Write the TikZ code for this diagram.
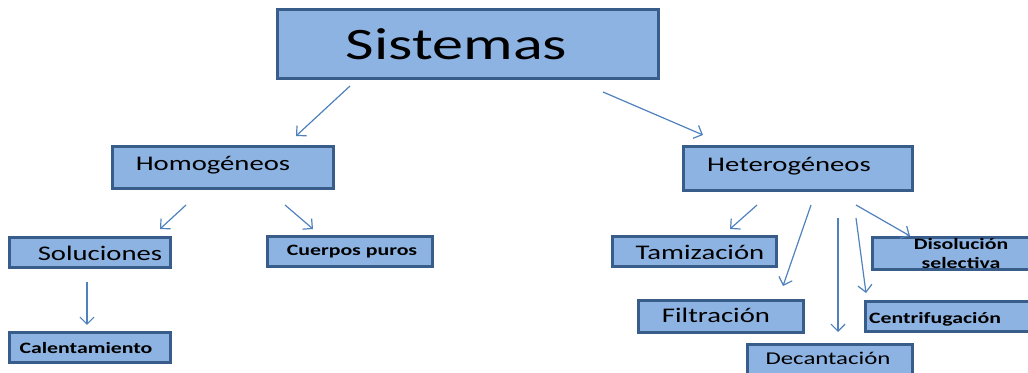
\documentclass[tikz,border=0pt]{standalone}
\usepackage{fontspec}
\setmainfont{Carlito}[FakeStretch=1.38]
\usetikzlibrary{arrows.meta}
\definecolor{boxfill}{HTML}{8DB3E2}
\definecolor{boxline}{HTML}{385D8A}
\definecolor{arrowblue}{HTML}{4F81BD}
\tikzset{
    caja/.style={draw=boxline,line width=1.5pt,fill=boxfill,inner sep=0pt},
    flecha/.style={arrowblue,line width=0.6pt,-{Straight Barb[length=3.5pt,width=7pt]}},
    grande/.style={font=\fontsize{10.4}{12}\selectfont},
    chica/.style={font=\bfseries\fontsize{7.9}{9.5}\selectfont},
}
\begin{document}
\begin{tikzpicture}[x=0.5pt,y=-0.5pt]
                \useasboundingbox (0,0) rectangle (1028,373);
                \clip (0,0) rectangle (1028,373);
                \node[caja,minimum width=190.5pt,minimum height=34.5pt,label={[xshift=-5.5pt,font=\fontsize{22.5}{27}\selectfont]center:Sistemas}] (sist) at (467.5,44.5) {};
                \node[caja,minimum width=110.5pt,minimum height=21pt,label={[xshift=-4.75pt,yshift=1.2pt,grande]center:Homogéneos}] (homo) at (222.5,168) {};
                \node[caja,minimum width=114.5pt,minimum height=22pt,label={[xshift=-4.25pt,yshift=1.5pt,grande]center:Heterogéneos}] (hete) at (797.5,169) {};
                \node[caja,minimum width=80.5pt,minimum height=15pt,label={[xshift=5.25pt,grande]center:Soluciones}] (solu) at (89.5,253) {};
                \node[caja,minimum width=82.5pt,minimum height=15pt,label={[xshift=1.25pt,chica]center:Cuerpos puros}] (cuer) at (349.5,252) {};
                \node[caja,minimum width=80.5pt,minimum height=15pt,label={[xshift=-1.75pt,chica]center:Calentamiento}] (calen) at (89.5,348) {};
                \node[caja,minimum width=82pt,minimum height=15pt,label={[xshift=3pt,grande]center:Tamización}] (tami) at (694,252) {};
                \node[caja,minimum width=82.5pt,minimum height=16pt,label={[xshift=-2.25pt,yshift=0.8pt,grande]center:Filtración}] (filt) at (720.5,317) {};
                \node[caja,minimum width=82.5pt,minimum height=16pt,label={[xshift=-0.75pt,yshift=1.2pt,font=\fontsize{9}{11}\selectfont]center:Decantación}] (deca) at (829.5,361) {};
                \node[caja,minimum width=82.5pt,minimum height=15pt,label={[xshift=-6.25pt,yshift=-1pt,chica]center:Centrifugación}] (cent) at (947.5,317) {};
                \node[caja,minimum width=82.5pt,minimum height=16pt,label={[xshift=3.25pt,chica,align=center]center:Disolución\\selectiva}] (diso) at (954.5,254) {};
                \coordinate (sist-i) at (350,86); \coordinate (homo-n) at (296,136);
                \coordinate (sist-d) at (603,92); \coordinate (hete-n) at (703,135);
                \coordinate (homo-i) at (186,205); \coordinate (solu-n) at (160,229);
                \coordinate (homo-d) at (285,205); \coordinate (cuer-n) at (313,229);
                \coordinate (solu-s) at (87,282); \coordinate (calen-n) at (87,325);
                \coordinate (hete-1) at (757,205); \coordinate (tami-n) at (730,229);
                \coordinate (hete-2) at (811,205); \coordinate (filt-n) at (783,286);
                \coordinate (hete-3) at (838,218); \coordinate (deca-n) at (838,332);
                \coordinate (hete-4) at (856,218); \coordinate (cent-n) at (866,293);
                \coordinate (hete-5) at (856,205); \coordinate (diso-n) at (910,236);
                \draw[flecha] (sist-i) -- (homo-n);
                \draw[flecha] (sist-d) -- (hete-n);
                \draw[flecha] (homo-i) -- (solu-n);
                \draw[flecha] (homo-d) -- (cuer-n);
                \draw[flecha] (solu-s) -- (calen-n);
                \draw[flecha] (hete-1) -- (tami-n);
                \draw[flecha] (hete-2) -- (filt-n);
                \draw[flecha] (hete-3) -- (deca-n);
                \draw[flecha] (hete-4) -- (cent-n);
                \draw[flecha] (hete-5) -- (diso-n);
            \end{tikzpicture}
\end{document}
